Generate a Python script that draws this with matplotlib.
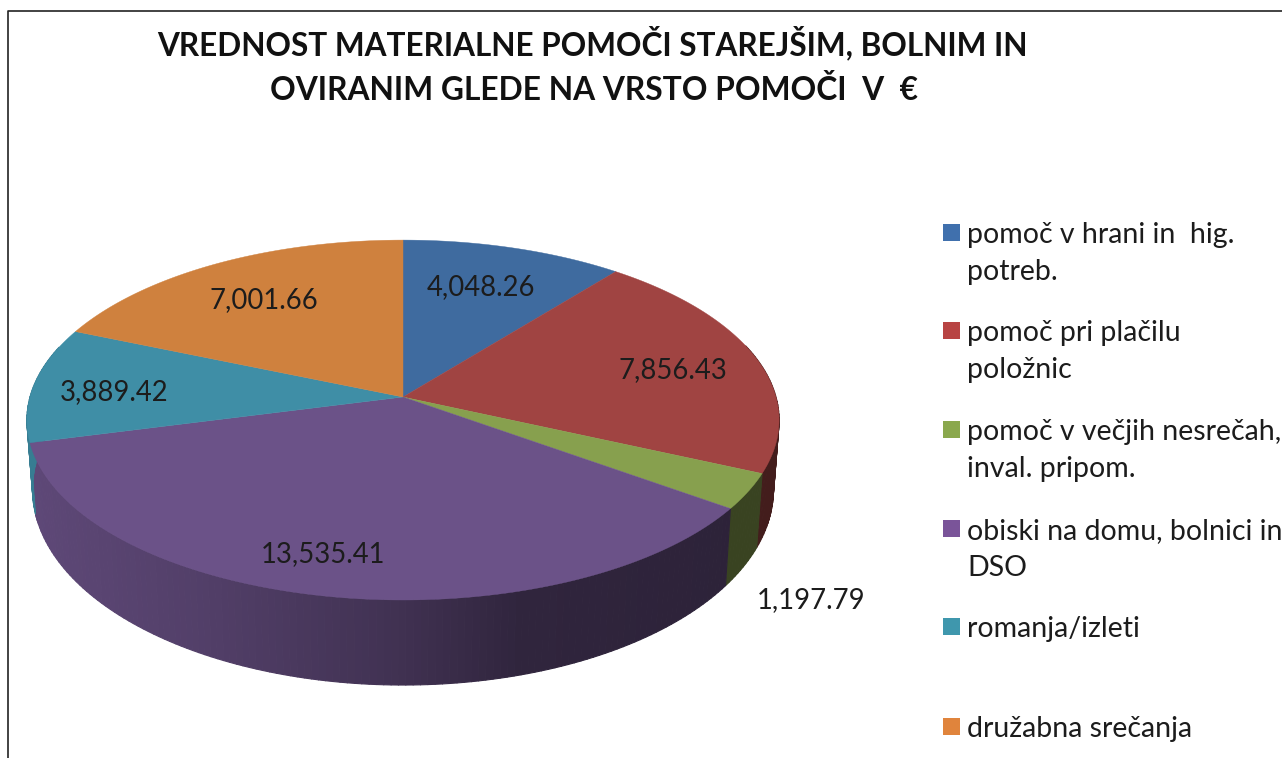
import numpy as np
import matplotlib
matplotlib.use("Agg")
import matplotlib.pyplot as plt
from matplotlib.collections import PolyCollection
from matplotlib.colors import to_rgb

# data
values = [4048.26, 7856.43, 1197.79, 13535.41, 3889.42, 7001.66]
value_labels = ["4,048.26", "7,856.43", "1,197.79", "13,535.41", "3,889.42", "7,001.66"]
categories = ["pomoč v hrani in  hig.\npotreb.", "pomoč pri plačilu\npoložnic",
              "pomoč v večjih nesrečah,\ninval. pripom.", "obiski na domu, bolnici in\nDSO",
              "romanja/izleti", "družabna srečanja"]
colors = ["#3f6b9f", "#a04442", "#87a04e", "#6b5288", "#3f8ea6", "#cf813e"]
legend_colors = ["#4070ad", "#b84443", "#8aa84d", "#7a5499", "#3f97ad", "#e0843c"]
title_lines = ["VREDNOST MATERIALNE POMOČI STAREJŠIM, BOLNIM IN",
               "OVIRANIM GLEDE NA VRSTO POMOČI  V  €"]

# layout in pixels
label_x = [481, 673, 811, 323, 114, 264]
label_y = [287, 370, 600, 554, 392, 300]
legend_y = [232, 330, 429, 528, 626, 726]

plt.rcParams['font.family'] = ['Lato', 'DejaVu Sans']

cx, cy = 403, 397
a, b, p = 373, 177, 0.128


# perspective of the pie disc, angle clockwise from the top
def top_rim(t):
    w = 1 + p * np.cos(t)
    return cx + a * np.sin(t) / w, cy - b * np.cos(t) / w


def bottom_rim(t):
    x, y = top_rim(t)
    return cx + (x - cx) * 0.985, y + 67.4 + 0.087 * (y - cy)


fig = plt.figure(figsize=(12.82, 7.58), dpi=100)
ax = fig.add_axes([0, 0, 1, 1])
ax.set_xlim(0, 1282)
ax.set_ylim(758, 0)
ax.axis("off")

ax.plot([7.5, 7.5, 1282], [758, 10.5, 10.5], color="#222222", lw=1.2)

edges = np.concatenate([[0], np.cumsum(values)]) / np.sum(values) * 2 * np.pi

# side wall, darker towards the right
for i in range(len(values)):
    t = np.linspace(edges[i], edges[i + 1], int(np.degrees(edges[i + 1] - edges[i])) + 2)
    t = t[np.cos(t) < 0.3]
    if len(t) < 2:
        continue
    x1, y1 = top_rim(t)
    x2, y2 = bottom_rim(t)
    polys = []
    cols = []
    for j in range(len(t) - 1):
        polys.append([(x1[j], y1[j]), (x1[j + 1], y1[j + 1]), (x2[j + 1], y2[j + 1]), (x2[j], y2[j])])
        shade = np.interp((x1[j] + x1[j + 1]) / 2, [27, 200, 400, 520, 730], [0.88, 0.77, 0.6, 0.45, 0.42])
        cols.append(np.array(to_rgb(colors[i])) * shade)
    ax.add_collection(PolyCollection(polys, facecolors=cols, edgecolors=cols, linewidths=0.8, zorder=2))

# top face
for i in range(len(values)):
    t = np.linspace(edges[i], edges[i + 1], 200)
    x, y = top_rim(t)
    ax.fill(np.r_[cx, x], np.r_[cy, y], color=colors[i], lw=0.3, zorder=3)

for i in range(len(values)):
    ax.text(label_x[i], label_y[i], value_labels[i], ha="center", va="center",
            fontsize=19.8, color="#1c1c1c", zorder=5)

# legend
for i in range(len(categories)):
    ax.fill([943, 960, 960, 943], [legend_y[i] - 8.5, legend_y[i] - 8.5, legend_y[i] + 8.5, legend_y[i] + 8.5],
            color=legend_colors[i], lw=0)
    for j, line in enumerate(categories[i].split("\n")):
        ax.text(967, legend_y[i] + 11 + 37 * j, line, ha="left", va="baseline",
                fontsize=20.5, color="#1c1c1c")

ax.text(592.5, 55, title_lines[0], ha="center", va="baseline", fontsize=22.7, fontweight="bold", color="#111111")
ax.text(594, 100, title_lines[1], ha="center", va="baseline", fontsize=22.9, fontweight="bold", color="#111111")

fig.savefig("out.png", dpi=100)
